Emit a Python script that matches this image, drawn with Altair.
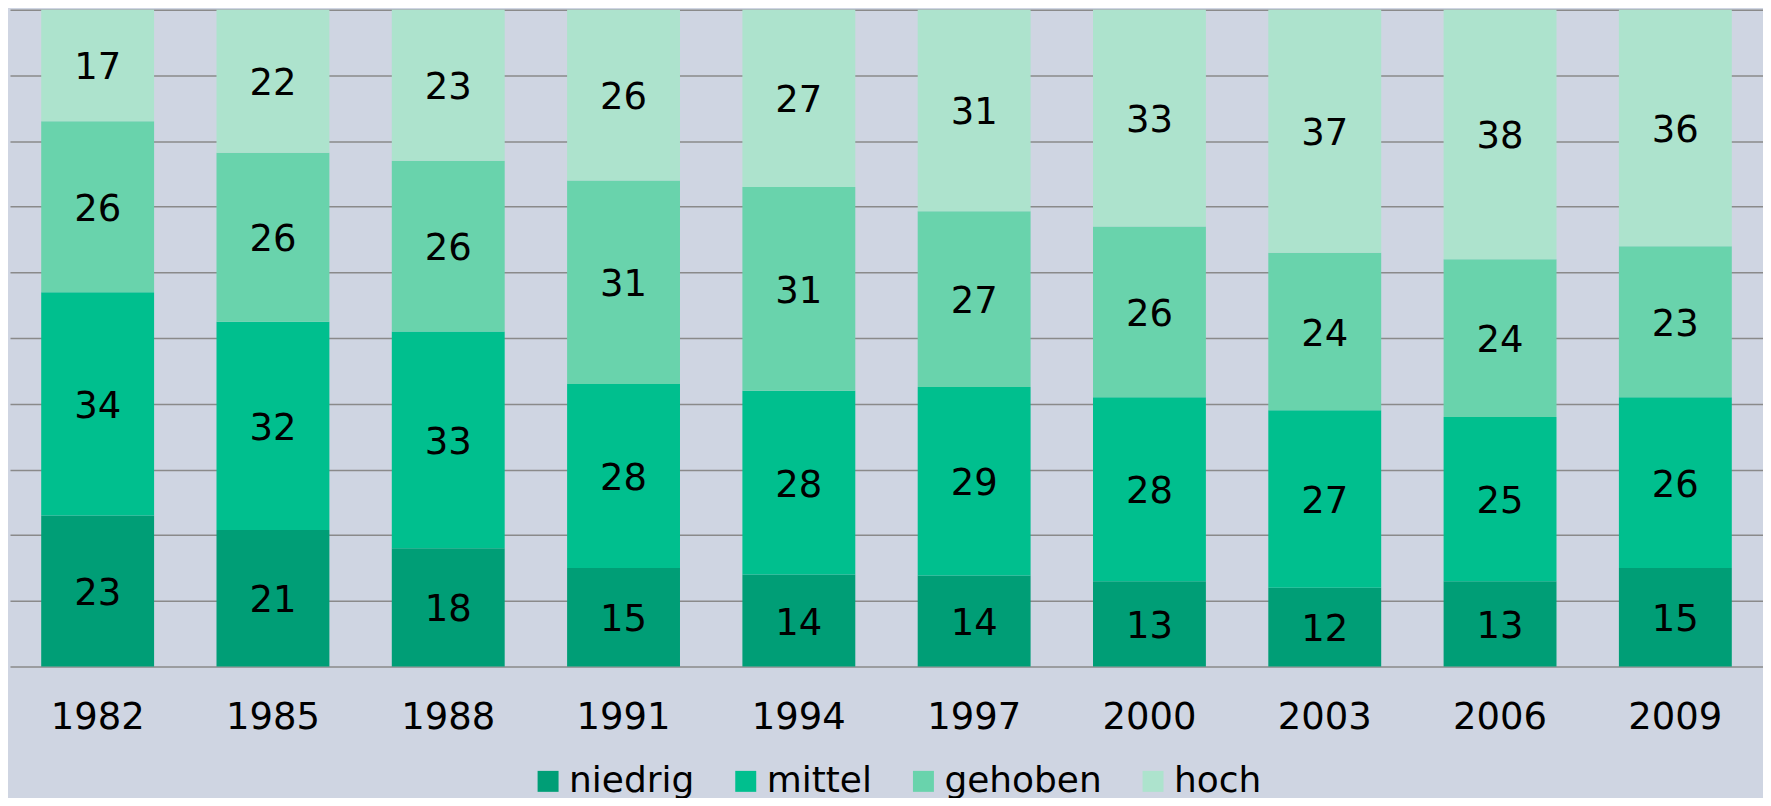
import altair as alt
import pandas as pd

years = ["1982", "1985", "1988", "1991", "1994", "1997", "2000", "2003", "2006", "2009"]
categories = ["niedrig", "mittel", "gehoben", "hoch"]
niedrig = [23, 21, 18, 15, 14, 14, 13, 12, 13, 15]
mittel = [34, 32, 33, 28, 28, 29, 28, 27, 25, 26]
gehoben = [26, 26, 26, 31, 31, 27, 26, 24, 24, 23]
hoch = [17, 22, 23, 26, 27, 31, 33, 37, 38, 36]
colors = ["#009E76", "#00BF8E", "#69D3AC", "#ADE3CD"]
grid_values = [0, 0.1, 0.2, 0.3, 0.4, 0.5, 0.6, 0.7, 0.8, 0.9, 1.0]

series = {"niedrig": niedrig, "mittel": mittel, "gehoben": gehoben, "hoch": hoch}
rows = []
for ci, cat in enumerate(categories):
    for yi, yr in enumerate(years):
        rows.append({"year": yr, "cat": cat, "order": ci, "value": series[cat][yi]})
df = pd.DataFrame(rows)

FONT = "DejaVu Sans"

base = alt.Chart(df).transform_stack(
    stack="value",
    groupby=["year"],
    sort=[alt.SortField("order", order="ascending")],
    as_=["y0", "y1"],
    offset="normalize",
).transform_calculate(mid="(datum.y0 + datum.y1) / 2")

x_scale = alt.Scale(paddingInner=0.356, paddingOuter=0.178)
x_axis = alt.Axis(
    labelFontSize=37,
    labelFont=FONT,
    labelColor="#000000",
    labelAngle=0,
    ticks=False,
    domain=False,
    labelPadding=33,
    grid=False,
)
y_scale = alt.Scale(domain=[0, 1], nice=False)
y_axis = alt.Axis(
    labels=False,
    ticks=False,
    domain=False,
    grid=True,
    gridColor="#8A8A8A",
    gridWidth=1.5,
    values=grid_values,
)

bars = base.mark_bar().encode(
    x=alt.X("year:N", sort=years, title=None, scale=x_scale, axis=x_axis),
    y=alt.Y("y0:Q", title=None, scale=y_scale, axis=y_axis),
    y2="y1:Q",
    color=alt.Color(
        "cat:N",
        sort=categories,
        scale=alt.Scale(domain=categories, range=colors),
        legend=alt.Legend(
            title=None,
            orient="none",
            direction="horizontal",
            legendX=521,
            legendY=755,
            symbolType="square",
            symbolSize=441,
            symbolStrokeWidth=0,
            symbolOpacity=1,
            labelFontSize=36,
            labelFont=FONT,
            labelColor="#000000",
            labelOffset=3,
            columnPadding=33,
        ),
    ),
)

labels = base.mark_text(fontSize=37, font=FONT, color="#000000", baseline="middle", dy=3).encode(
    x=alt.X("year:N", sort=years, title=None, scale=x_scale, axis=x_axis),
    y=alt.Y("mid:Q", title=None, scale=y_scale, axis=y_axis),
    text=alt.Text("value:Q"),
)

chart = (
    alt.layer(bars, labels)
    .properties(
        width=1756,
        height=658,
        background="#CFD5E2",
        padding={"left": 2, "top": 1, "right": 0, "bottom": 131},
        autosize=alt.AutoSizeParams(type="none"),
    )
    .configure_view(stroke=None)
)

chart.save("out.html", embed_options={"renderer": "svg", "actions": False})
